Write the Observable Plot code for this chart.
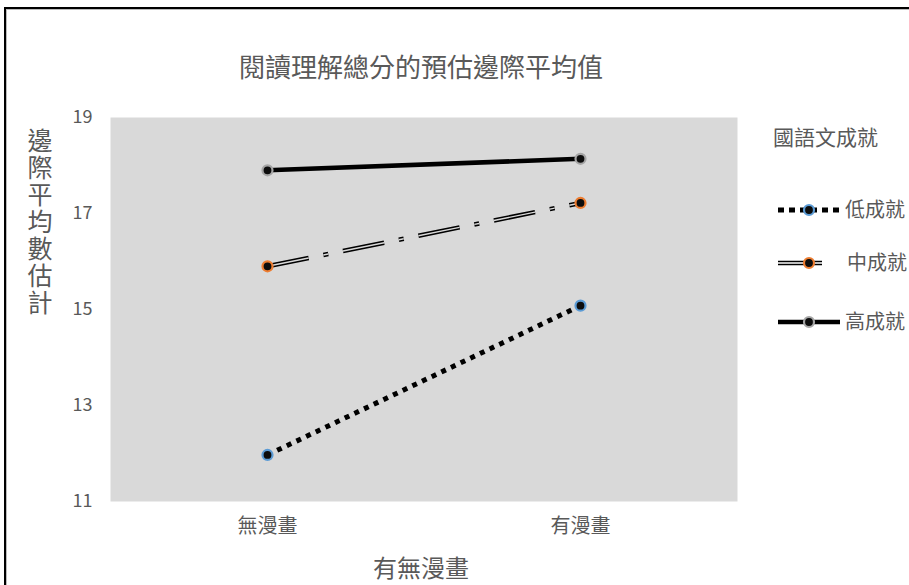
<!DOCTYPE html>
<html>
<head>
<meta charset="utf-8">
<script src="https://cdn.jsdelivr.net/npm/d3@7"></script>
<script src="https://cdn.jsdelivr.net/npm/@observablehq/plot@0.6"></script>
<style>
  html, body { margin: 0; padding: 0; background: #fff; }
  body { width: 909px; height: 585px; position: relative; overflow: hidden;
         font-family: "Noto Sans CJK TC", "Noto Sans", sans-serif; color: #595959; }
  #frameBorder { position: absolute; left: 4px; top: 7px; width: 1000px; height: 1000px;
                 border-left: 2px solid #000; border-top: 2px solid #000; box-shadow: inset 1px 1px 0 #bbb; }
  #chart { position: absolute; left: 0; top: 0; }
  .txt { position: absolute; white-space: nowrap; line-height: 1; }
  #title { left: 0; width: 842px; top: 53px; text-align: center; font-size: 26px; }
  #ylab { left: 27px; top: 128px; font-size: 25px; writing-mode: vertical-rl; text-orientation: upright; letter-spacing: 2px; line-height: 1; }
  #xlab { left: 0; width: 842px; top: 555px; text-align: center; font-size: 24px; }
  #legTitle { left: 773px; top: 126px; font-size: 21px; }
  .legItem { position: absolute; left: 776px; height: 24px; }
  .legItem svg { position: absolute; left: 0; top: 0; }
  .legItem span { position: absolute; top: 1px; font-size: 20px; line-height: 1; white-space: nowrap; }
</style>
</head>
<body>
<div id="frameBorder"></div>
<div id="chart"></div>
<div class="txt" id="title">閱讀理解總分的預估邊際平均值</div>
<div class="txt" id="ylab">邊際平均數估計</div>
<div class="txt" id="xlab">有無漫畫</div>
<div class="txt" id="legTitle">國語文成就</div>
<div id="legend"></div>
<script>
// ---- data ----
const groups = ["無漫畫", "有漫畫"];
const seriesNames = ["低成就", "中成就", "高成就"];
const lowValues = [11.97, 15.08];
const midValues = [15.90, 17.22];
const highValues = [17.90, 18.14];
const yTicks = [11, 13, 15, 17, 19];
const legendTitle = "國語文成就";

const markerColors = {"低成就": "#5b9bd5", "中成就": "#ed7d31", "高成就": "#a5a5a5"};
const bg = "#d9d9d9";

const rows = [];
[lowValues, midValues, highValues].forEach((vals, i) => {
  vals.forEach((v, j) => rows.push({series: seriesNames[i], group: groups[j], value: v}));
});
const bySeries = s => rows.filter(d => d.series === s);

const chart = Plot.plot({
  width: 909,
  height: 585,
  marginLeft: 110,
  marginRight: 172,
  marginTop: 117,
  marginBottom: 84,
  style: {fontFamily: '"Noto Sans CJK TC", "Noto Sans", sans-serif', color: "#595959", background: "transparent", overflow: "visible"},
  x: {type: "point", domain: groups, padding: 0.5, label: null},
  y: {domain: [11, 19], label: null},
  marks: [
    Plot.frame({fill: bg, stroke: null}),
    Plot.axisY({ticks: yTicks, tickSize: 0, tickPadding: 18, fontSize: 18, label: null, fill: "#595959"}),
    Plot.axisX({tickSize: 0, tickPadding: 17, fontSize: 20, label: null, fill: "#595959"}),
    // high: solid thick
    Plot.line(bySeries("高成就"), {x: "group", y: "value", stroke: "#000", strokeWidth: 4.5}),
    // mid: double dash-dot
    Plot.line(bySeries("中成就"), {x: "group", y: "value", stroke: "#000", strokeWidth: 4.5, strokeDasharray: "42,15,5,15", strokeLinecap: "butt"}),
    Plot.line(bySeries("中成就"), {x: "group", y: "value", stroke: bg, strokeWidth: 1.4, strokeDasharray: "42,15,5,15", strokeLinecap: "butt"}),
    // low: square dots
    Plot.line(bySeries("低成就"), {x: "group", y: "value", stroke: "#000", strokeWidth: 5, strokeDasharray: "5,5.7", strokeLinecap: "butt"}),
    Plot.dot(rows, {x: "group", y: "value", r: 5, fill: "#0d0d0d", stroke: d => markerColors[d.series], strokeWidth: 2.2})
  ]
});
document.getElementById("chart").appendChild(chart);

// ---- legend ----
const legend = document.getElementById("legend");
const legendSpec = [
  {name: "低成就", top: 198, lineEnd: 64, labelLeft: 69,
   lines: [{w: 5, c: "#000", dash: "6,5"}]},
  {name: "中成就", top: 251, lineEnd: 46, labelLeft: 71,
   lines: [{w: 4.5, c: "#000", dash: null}, {w: 1.4, c: "#fff", dash: null}]},
  {name: "高成就", top: 310, lineEnd: 64, labelLeft: 69,
   lines: [{w: 4.5, c: "#000", dash: null}]}
];
legendSpec.forEach(s => {
  const item = document.createElement("div");
  item.className = "legItem";
  item.style.top = s.top + "px";
  let svg = `<svg width="70" height="24">`;
  s.lines.forEach(l => {
    svg += `<line x1="2" x2="${s.lineEnd}" y1="12" y2="12" stroke="${l.c}" stroke-width="${l.w}" ${l.dash ? `stroke-dasharray="${l.dash}"` : ""}/>`;
  });
  svg += `<circle cx="33" cy="12" r="5" fill="#0d0d0d" stroke="${markerColors[s.name]}" stroke-width="2.2"/></svg>`;
  item.innerHTML = svg + `<span style="left:${s.labelLeft}px">${s.name}</span>`;
  legend.appendChild(item);
});
</script>
</body>
</html>
